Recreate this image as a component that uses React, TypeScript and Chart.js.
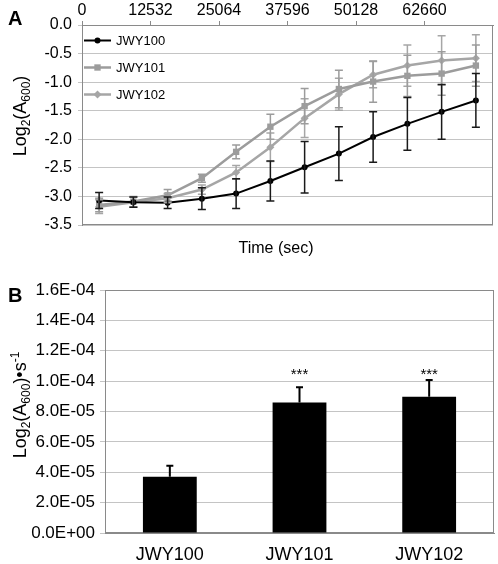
import React, { useEffect, useRef } from 'react';
import { Chart, registerables } from 'chart.js';

Chart.register(...registerables);

const FONT = '"Liberation Sans", Arial, Helvetica, sans-serif';
Chart.defaults.font.family = FONT;

// ---------- Panel A data ----------
const timeSec = [3133, 9399, 15665, 21931, 28197, 34463, 40729, 46995, 53261, 59527, 65793, 72059];
const timeTicks = [0, 12532, 25064, 37596, 50128, 62660];
const timeMax = 75192;
const seriesNames = ['JWY100', 'JWY101', 'JWY102'];
const jwy100 = [-3.07, -3.1, -3.11, -3.04, -2.95, -2.73, -2.49, -2.25, -1.96, -1.73, -1.52, -1.32];
const jwy100Err = [0.14, 0.09, 0.1, 0.19, 0.26, 0.35, 0.45, 0.47, 0.44, 0.46, 0.48, 0.47];
const jwy101 = [-3.15, -3.09, -2.98, -2.68, -2.22, -1.78, -1.42, -1.12, -0.99, -0.89, -0.85, -0.71];
const jwy101Err = [0.12, 0.09, 0.1, 0.07, 0.12, 0.22, 0.31, 0.33, 0.36, 0.36, 0.38, 0.36];
const jwy102 = [-3.18, -3.1, -3.03, -2.88, -2.58, -2.14, -1.63, -1.21, -0.87, -0.71, -0.62, -0.58];
const jwy102Err = [0.12, 0.09, 0.08, 0.08, 0.12, 0.25, 0.34, 0.28, 0.23, 0.36, 0.43, 0.41];

// ---------- Panel B data ----------
const strains = ['JWY100', 'JWY101', 'JWY102'];
const rates = [3.7e-5, 8.6e-5, 8.97e-5];
const rateErr = [0.73e-5, 1.0e-5, 1.1e-5];
const significance = ['', '***', '***'];

const GRID = '#c4c4c4';
const FRAME = '#8a8a8a';

function fmtExp(v: number) {
  const [m, e] = Number(v).toExponential(1).split('e');
  const sign = e[0] === '-' ? '-' : '+';
  const digits = e.replace(/^[+-]/, '').padStart(2, '0');
  return `${m}E${sign}${digits}`;
}

type Run = { t: string; size: number; dy?: number };
function drawRuns(ctx: CanvasRenderingContext2D, runs: Run[], cx: number, cy: number, rotate: boolean) {
  ctx.save();
  ctx.translate(cx, cy);
  if (rotate) ctx.rotate(-Math.PI / 2);
  let total = 0;
  runs.forEach((r) => {
    ctx.font = `${r.size}px ${FONT}`;
    total += ctx.measureText(r.t).width;
  });
  let x = -total / 2;
  ctx.textBaseline = 'alphabetic';
  ctx.textAlign = 'left';
  ctx.fillStyle = '#000';
  runs.forEach((r) => {
    ctx.font = `${r.size}px ${FONT}`;
    ctx.fillText(r.t, x, r.dy || 0);
    x += ctx.measureText(r.t).width;
  });
  ctx.restore();
}

function drawMarker(ctx: CanvasRenderingContext2D, style: string, x: number, y: number, r: number, color: string) {
  ctx.save();
  ctx.fillStyle = color;
  ctx.beginPath();
  if (style === 'circle') {
    ctx.arc(x, y, r, 0, Math.PI * 2);
  } else if (style === 'rect') {
    const s = r * Math.SQRT1_2;
    ctx.rect(x - s, y - s, 2 * s, 2 * s);
  } else {
    ctx.moveTo(x, y - r);
    ctx.lineTo(x + r, y);
    ctx.lineTo(x, y + r);
    ctx.lineTo(x - r, y);
    ctx.closePath();
  }
  ctx.fill();
  ctx.restore();
}

const framePlugin = {
  id: 'frame',
  beforeDatasetsDraw(chart: any) {
    const { ctx, chartArea: a } = chart;
    ctx.save();
    ctx.strokeStyle = FRAME;
    ctx.lineWidth = 1;
    ctx.strokeRect(Math.round(a.left) + 0.5, Math.round(a.top) + 0.5, Math.round(a.right - a.left) - 1, Math.round(a.bottom - a.top) - 1);
    ctx.restore();
  },
};

const errorBarsPlugin = {
  id: 'errorBars',
  afterDatasetsDraw(chart: any) {
    const ctx = chart.ctx;
    const n = chart.data.datasets.length;
    for (let i = n - 1; i >= 0; i--) {
      const ds: any = chart.data.datasets[i];
      if (!ds.errors) continue;
      const meta = chart.getDatasetMeta(i);
      const ys = chart.scales[meta.yAxisID];
      ctx.save();
      ctx.strokeStyle = ds.errorColor;
      ctx.lineWidth = ds.errorWidth;
      meta.data.forEach((el: any, j: number) => {
        const raw = ds.data[j];
        const v = typeof raw === 'number' ? raw : raw.y;
        const e = ds.errors[j];
        const x = el.x;
        const yTop = ys.getPixelForValue(v + e);
        const yBot = ds.errorUpOnly ? el.y : ys.getPixelForValue(v - e);
        const cw = ds.errorCap;
        ctx.beginPath();
        ctx.moveTo(x, yTop);
        ctx.lineTo(x, yBot);
        ctx.moveTo(x - cw, yTop);
        ctx.lineTo(x + cw, yTop);
        if (!ds.errorUpOnly) {
          ctx.moveTo(x - cw, yBot);
          ctx.lineTo(x + cw, yBot);
        }
        ctx.stroke();
      });
      ctx.restore();
    }
  },
};

const legendPluginA = {
  id: 'innerLegend',
  afterDatasetsDraw(chart: any) {
    const { ctx, chartArea: a } = chart;
    chart.data.datasets.forEach((ds: any, i: number) => {
      const y = a.top + 15.5 + i * 27;
      const x0 = a.left + 2;
      const x1 = a.left + 29;
      ctx.save();
      ctx.strokeStyle = ds.borderColor;
      ctx.lineWidth = ds.borderWidth;
      ctx.beginPath();
      ctx.moveTo(x0, y);
      ctx.lineTo(x1, y);
      ctx.stroke();
      drawMarker(ctx, ds.pointStyle, (x0 + x1) / 2, y, ds.pointRadius, ds.backgroundColor);
      ctx.fillStyle = '#000';
      ctx.font = `13px ${FONT}`;
      ctx.textBaseline = 'middle';
      ctx.textAlign = 'left';
      ctx.fillText(ds.label, a.left + 34, y + 1);
      ctx.restore();
    });
  },
};

const titlesPluginA = {
  id: 'titlesA',
  afterDraw(chart: any) {
    const { ctx } = chart;
    ctx.save();
    ctx.fillStyle = '#000';
    ctx.font = `bold 20px ${FONT}`;
    ctx.textAlign = 'left';
    ctx.textBaseline = 'alphabetic';
    ctx.fillText('A', 8, 25);
    ctx.font = `16px ${FONT}`;
    ctx.textAlign = 'center';
    ctx.fillText('Time (sec)', 276, 253);
    ctx.restore();
    drawRuns(
      ctx,
      [
        { t: 'Log', size: 18 },
        { t: '2', size: 12, dy: 4 },
        { t: '(A', size: 18 },
        { t: '600', size: 12, dy: 4 },
        { t: ')', size: 18 },
      ],
      26,
      116,
      true
    );
  },
};

const titlesPluginB = {
  id: 'titlesB',
  afterDraw(chart: any) {
    const { ctx } = chart;
    ctx.save();
    ctx.fillStyle = '#000';
    ctx.font = `bold 20px ${FONT}`;
    ctx.textAlign = 'left';
    ctx.textBaseline = 'alphabetic';
    ctx.fillText('B', 8, 37);
    // significance marks
    const meta = chart.getDatasetMeta(0);
    const ys = chart.scales.y;
    const topVal = Math.max(...rates.map((r, i) => r + rateErr[i]));
    const yStar = ys.getPixelForValue(topVal) - 8;
    ctx.font = `15px ${FONT}`;
    ctx.textAlign = 'center';
    ctx.textBaseline = 'middle';
    meta.data.forEach((el: any, i: number) => {
      if (significance[i]) ctx.fillText(significance[i], el.x, yStar + 3);
    });
    ctx.restore();
    drawRuns(
      ctx,
      [
        { t: 'Log', size: 18 },
        { t: '2', size: 12, dy: 4 },
        { t: '(A', size: 18 },
        { t: '600', size: 12, dy: 4 },
        { t: ')', size: 18 },
        { t: '\u2022', size: 18 },
        { t: 's', size: 18 },
        { t: '-1', size: 12, dy: -7 },
      ],
      26,
      140,
      true
    );
  },
};

function toPoints(vals: number[]) {
  return vals.map((v, i) => ({ x: timeSec[i], y: v }));
}

export default function App() {
  const refA = useRef<HTMLCanvasElement>(null);
  const refB = useRef<HTMLCanvasElement>(null);

  useEffect(() => {
    document.body.style.margin = '0';
    const tickFont16 = { size: 16, family: FONT };

    const chartA = new Chart(refA.current as HTMLCanvasElement, {
      type: 'line',
      data: {
        datasets: [
          {
            label: seriesNames[0],
            data: toPoints(jwy100),
            borderColor: '#000000',
            backgroundColor: '#000000',
            borderWidth: 2,
            pointStyle: 'circle',
            pointRadius: 3,
            pointBorderWidth: 0,
            tension: 0,
            errors: jwy100Err,
            errorColor: '#1a1a1a',
            errorWidth: 1.5,
            errorCap: 4,
          } as any,
          {
            label: seriesNames[1],
            data: toPoints(jwy101),
            borderColor: '#9c9c9c',
            backgroundColor: '#9c9c9c',
            borderWidth: 2.5,
            pointStyle: 'rect',
            pointRadius: 4.5,
            pointBorderWidth: 0,
            tension: 0,
            errors: jwy101Err,
            errorColor: '#9c9c9c',
            errorWidth: 1.5,
            errorCap: 4,
          } as any,
          {
            label: seriesNames[2],
            data: toPoints(jwy102),
            borderColor: '#a6a6a6',
            backgroundColor: '#a6a6a6',
            borderWidth: 2.5,
            pointStyle: 'rectRot',
            pointRadius: 4,
            pointBorderWidth: 0,
            tension: 0,
            errors: jwy102Err,
            errorColor: '#a6a6a6',
            errorWidth: 1.5,
            errorCap: 4,
          } as any,
        ],
      },
      options: {
        animation: false,
        responsive: false,
        maintainAspectRatio: false,
        layout: { padding: { left: 0, right: 5, top: 0, bottom: 40 } },
        plugins: { legend: { display: false }, tooltip: { enabled: false } },
        scales: {
          x: {
            type: 'linear',
            position: 'top',
            min: 0,
            max: timeMax,
            afterBuildTicks: (s: any) => {
              s.ticks = timeTicks.map((v) => ({ value: v }));
            },
            ticks: {
              font: tickFont16,
              color: '#000',
              padding: 1,
              maxRotation: 0,
              autoSkip: false,
              callback: (v: any) => String(v),
            },
            grid: { drawOnChartArea: false, drawTicks: true, tickLength: 4, color: FRAME },
            border: { display: true, color: FRAME },
            afterFit: (s: any) => {
              s.height = 25;
            },
          },
          y: {
            min: -3.5,
            max: 0,
            ticks: {
              stepSize: 0.5,
              font: tickFont16,
              color: '#000',
              padding: 6,
              callback: (v: any) => Number(v).toFixed(1),
            },
            grid: { color: GRID, tickLength: 4 },
            border: { display: true, color: FRAME },
            afterFit: (s: any) => {
              s.width = 82;
            },
          },
        },
      } as any,
      plugins: [framePlugin, errorBarsPlugin, legendPluginA, titlesPluginA],
    });

    const chartB = new Chart(refB.current as HTMLCanvasElement, {
      type: 'bar',
      data: {
        labels: strains,
        datasets: [
          {
            label: 'Rate',
            data: rates,
            backgroundColor: '#000000',
            borderWidth: 0,
            barPercentage: 0.415,
            categoryPercentage: 1,
            errors: rateErr,
            errorColor: '#000000',
            errorWidth: 2,
            errorCap: 3.5,
            errorUpOnly: true,
          } as any,
        ],
      },
      options: {
        animation: false,
        responsive: false,
        maintainAspectRatio: false,
        layout: { padding: { left: 0, right: 4, top: 25, bottom: 0 } },
        plugins: { legend: { display: false }, tooltip: { enabled: false } },
        scales: {
          x: {
            grid: { display: false, drawTicks: false },
            border: { display: true, color: FRAME },
            ticks: { font: { size: 18, family: FONT }, color: '#000', padding: 11, maxRotation: 0 },
            afterFit: (s: any) => {
              s.height = 31;
            },
          },
          y: {
            min: 0,
            max: 1.6e-4,
            ticks: {
              stepSize: 2e-5,
              font: { size: 17, family: FONT },
              color: '#000',
              padding: 5,
              callback: (v: any) => fmtExp(Number(v)),
            },
            grid: { color: GRID, tickLength: 5 },
            border: { display: true, color: FRAME },
            afterFit: (s: any) => {
              s.width = 105;
            },
          },
        },
      } as any,
      plugins: [framePlugin, errorBarsPlugin, titlesPluginB],
    });

    return () => {
      chartA.destroy();
      chartB.destroy();
    };
  }, []);

  return (
    <div style={{ position: 'relative', width: 498, height: 564, background: '#ffffff', overflow: 'hidden' }}>
      <canvas
        ref={refA}
        width={498}
        height={265}
        style={{ position: 'absolute', left: 0, top: 0, width: 498, height: 265, display: 'block' }}
      />
      <canvas
        ref={refB}
        width={498}
        height={299}
        style={{ position: 'absolute', left: 0, top: 265, width: 498, height: 299, display: 'block' }}
      />
    </div>
  );
}
